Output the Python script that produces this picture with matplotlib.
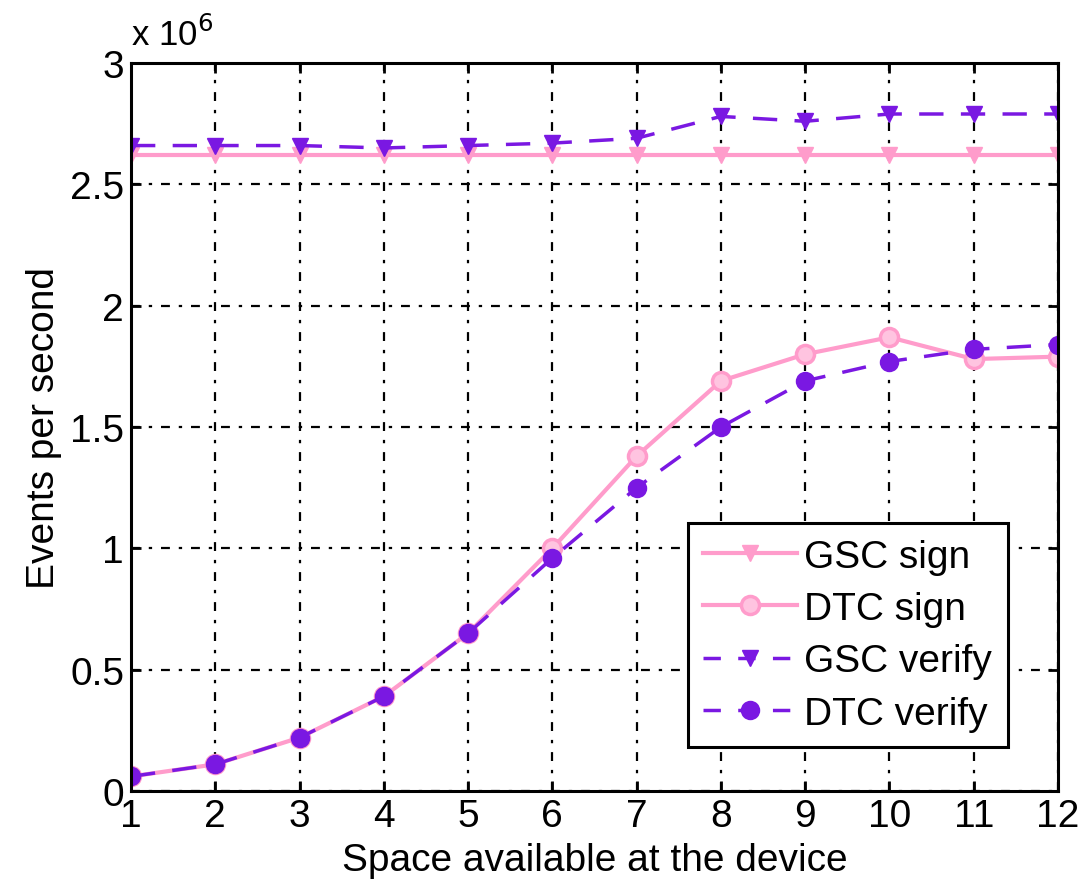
import matplotlib
matplotlib.use('Agg')
import matplotlib.pyplot as plt

plt.rcParams['font.family'] = ['Liberation Sans', 'DejaVu Sans']

# data (events per second, in units of 1e6)
space = [1, 2, 3, 4, 5, 6, 7, 8, 9, 10, 11, 12]
gsc_sign = [2.62, 2.62, 2.62, 2.62, 2.62, 2.62, 2.62, 2.62, 2.62, 2.62, 2.62, 2.62]
dtc_sign = [0.06, 0.11, 0.22, 0.39, 0.65, 1.00, 1.38, 1.69, 1.80, 1.87, 1.78, 1.79]
gsc_verify = [2.66, 2.66, 2.66, 2.65, 2.66, 2.67, 2.69, 2.78, 2.76, 2.79, 2.79, 2.79]
dtc_verify = [0.06, 0.11, 0.22, 0.39, 0.65, 0.96, 1.25, 1.50, 1.69, 1.77, 1.82, 1.84]

pink = '#ff9ccb'
purple = '#7a18e2'
fs = 28

fig = plt.figure(figsize=(10.81, 8.87), dpi=100)
ax = fig.add_axes([0.1212, 0.1071, 0.8575, 0.8207])

ax.plot(space, gsc_sign, '-', color=pink, lw=3, marker='v', ms=12,
        mfc=pink, mec=pink, label='GSC sign')
ax.plot(space, dtc_sign, '-', color=pink, lw=3, marker='o', ms=13,
        mfc='#ffc4e0', mec=pink, mew=2.5, label='DTC sign')
ax.plot(space, gsc_verify, '--', color=purple, lw=2.5, dashes=(7, 5),
        marker='v', ms=12, mfc=purple, mec=purple, label='GSC verify')
ax.plot(space, dtc_verify, '--', color=purple, lw=2.5, dashes=(7, 5),
        marker='o', ms=12, mfc=purple, mec=purple, mew=2, label='DTC verify')

ax.set_xlim(1, 12)
ax.set_ylim(0, 3)
ax.set_xticks(space)
ax.set_yticks([0, 0.5, 1, 1.5, 2, 2.5, 3])
ax.set_yticklabels(['0', '0.5', '1', '1.5', '2', '2.5', '3'])
ax.tick_params(direction='in', length=7, width=2, labelsize=fs,
               top=True, right=True, pad=5)
for s in ax.spines.values():
    s.set_linewidth(2.2)

ax.grid(True, color='black', linestyle=(0, (4, 4, 1.5, 4)), linewidth=1.6)
ax.set_axisbelow(True)

ax.set_xlabel('Space available at the device', fontsize=fs, labelpad=6)
ax.set_ylabel('Events per second', fontsize=fs, labelpad=6)
ax.text(0.0, 1.015, 'x 10$^6$', transform=ax.transAxes, fontsize=25,
        ha='left', va='bottom')

leg = ax.legend(loc='lower right', bbox_to_anchor=(0.946, 0.06), fontsize=fs,
                fancybox=False, framealpha=1, edgecolor='black',
                handlelength=2.4, borderpad=0.4, labelspacing=0.42,
                handletextpad=0.2, borderaxespad=0)
leg.get_frame().set_linewidth(2.2)
for h in leg.get_lines()[2:]:
    h.set_dashes((5, 5))

fig.savefig('out.png', dpi=100)
